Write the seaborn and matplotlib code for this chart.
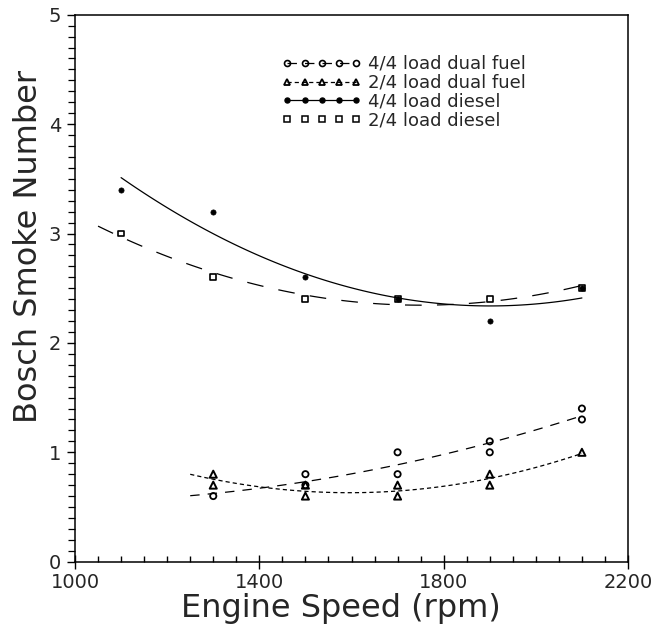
import numpy as np
import pandas as pd
import matplotlib
matplotlib.use("Agg")
import matplotlib.pyplot as plt
from matplotlib.lines import Line2D
from matplotlib.ticker import MultipleLocator
import seaborn as sns

# ---- data ----
diesel_speed = [1100, 1300, 1500, 1700, 1900, 2100]
diesel_full_load = [3.4, 3.2, 2.6, 2.4, 2.2, 2.5]
diesel_half_load = [3.0, 2.6, 2.4, 2.4, 2.4, 2.5]

dual_full_speed = [1300, 1500, 1500, 1700, 1700, 1900, 1900, 2100, 2100]
dual_full_load = [0.6, 0.8, 0.7, 1.0, 0.8, 1.1, 1.0, 1.4, 1.3]

dual_half_speed = [1300, 1300, 1500, 1500, 1700, 1700, 1900, 1900, 2100]
dual_half_load = [0.8, 0.7, 0.7, 0.6, 0.7, 0.6, 0.8, 0.7, 1.0]

legend_labels = ["4/4 load dual fuel", "2/4 load dual fuel",
                 "4/4 load diesel", "2/4 load diesel"]
x_ticks = [1000, 1400, 1800, 2200]
y_ticks = [0, 1, 2, 3, 4, 5]
x_label = "Engine Speed (rpm)"
y_label = "Bosch Smoke Number"

# ---- style ----
sns.set_style("white")
plt.rcParams["font.family"] = ["DejaVu Sans"]
plt.rcParams["lines.scale_dashes"] = False

DASH_LONG = (12, 11)
DASH_MED = (6.8, 5.8)
DASH_SHORT = (3.0, 2.2)
LW = 0.9

fig = plt.figure(figsize=(6.61, 6.29), dpi=100)
ax = fig.add_axes([75 / 661, 1 - 561.7 / 629, 553 / 661, 547 / 629])


def fitted_curve(x, y, x_start, x_end, style):
    # quadratic regression curve drawn by seaborn over [x_start, x_end]
    ax.set_xlim(x_start, x_end)
    sns.regplot(x=x, y=y, order=2, ci=None, scatter=False, truncate=False,
                ax=ax, color="black", line_kws=dict(lw=LW, **style))


fitted_curve(dual_full_speed, dual_full_load, 1250, 2100, dict(dashes=DASH_MED))
fitted_curve(dual_half_speed, dual_half_load, 1250, 2100, dict(dashes=DASH_SHORT))
fitted_curve(diesel_speed, diesel_full_load, 1100, 2100, dict(linestyle="-"))
fitted_curve(diesel_speed, diesel_half_load, 1050, 2100, dict(dashes=DASH_LONG))

sns.scatterplot(x=dual_full_speed, y=dual_full_load, ax=ax, marker="o", s=20,
                facecolors="none", edgecolors="black", linewidth=1.3, zorder=3)
sns.scatterplot(x=dual_half_speed, y=dual_half_load, ax=ax, marker="^", s=26,
                facecolors="none", edgecolors="black", linewidth=1.4, zorder=3)
sns.scatterplot(x=diesel_speed, y=diesel_full_load, ax=ax, marker="o", s=14,
                color="black", edgecolor="black", linewidth=0.5, zorder=3)
sns.scatterplot(x=diesel_speed, y=diesel_half_load, ax=ax, marker="s", s=18,
                facecolors="none", edgecolors="black", linewidth=1.2, zorder=3)

ax.set_xlim(1000, 2200)
ax.set_ylim(0, 5)
ax.set_xticks(x_ticks)
ax.set_xticklabels([str(t) for t in x_ticks])
ax.set_yticks(y_ticks)
ax.set_yticklabels([str(t) for t in y_ticks])
ax.xaxis.set_minor_locator(MultipleLocator(50))
ax.yaxis.set_minor_locator(MultipleLocator(0.1))

ax.tick_params(axis="x", which="major", direction="inout", length=10, width=1,
               labelsize=14, pad=3, bottom=True, top=False, color="black")
ax.tick_params(axis="x", which="minor", direction="in", length=4, width=1,
               bottom=True, top=False, color="black")
ax.tick_params(axis="y", which="major", direction="out", length=6, width=1,
               labelsize=14, pad=4, left=True, right=False, color="black")
ax.tick_params(axis="y", which="minor", direction="out", length=5, width=0.9,
               left=True, right=False, color="black")

for sp in ax.spines.values():
    sp.set_color("black")
    sp.set_linewidth(1.1)
    sp.set_visible(True)

ax.set_xlabel(x_label, fontsize=23)
ax.set_ylabel(y_label, fontsize=23)
ax.yaxis.set_label_coords(-0.056, 0.577)
ax.xaxis.set_label_coords(0.48, -0.058)

handles = [
    Line2D([], [], color="black", lw=LW, dashes=DASH_MED, marker="o", ms=4.3,
           mfc="none", mec="black", mew=1.2),
    Line2D([], [], color="black", lw=LW, dashes=DASH_SHORT, marker="^", ms=5,
           mfc="none", mec="black", mew=1.3),
    Line2D([], [], color="black", lw=LW, linestyle="-", marker="o", ms=3.6,
           mfc="black", mec="black"),
    Line2D([], [], color="black", linestyle="none", marker="s", ms=4.2,
           mfc="none", mec="black", mew=1.1),
]
ax.legend(handles, legend_labels, loc="upper left",
          bbox_to_anchor=(282 / 661, 1 - 55 / 629), bbox_transform=fig.transFigure,
          frameon=False, borderpad=0, borderaxespad=0, numpoints=5,
          handlelength=4.4, handletextpad=0.35, labelspacing=0.05, fontsize=13)

fig.savefig("out.png", dpi=100)
